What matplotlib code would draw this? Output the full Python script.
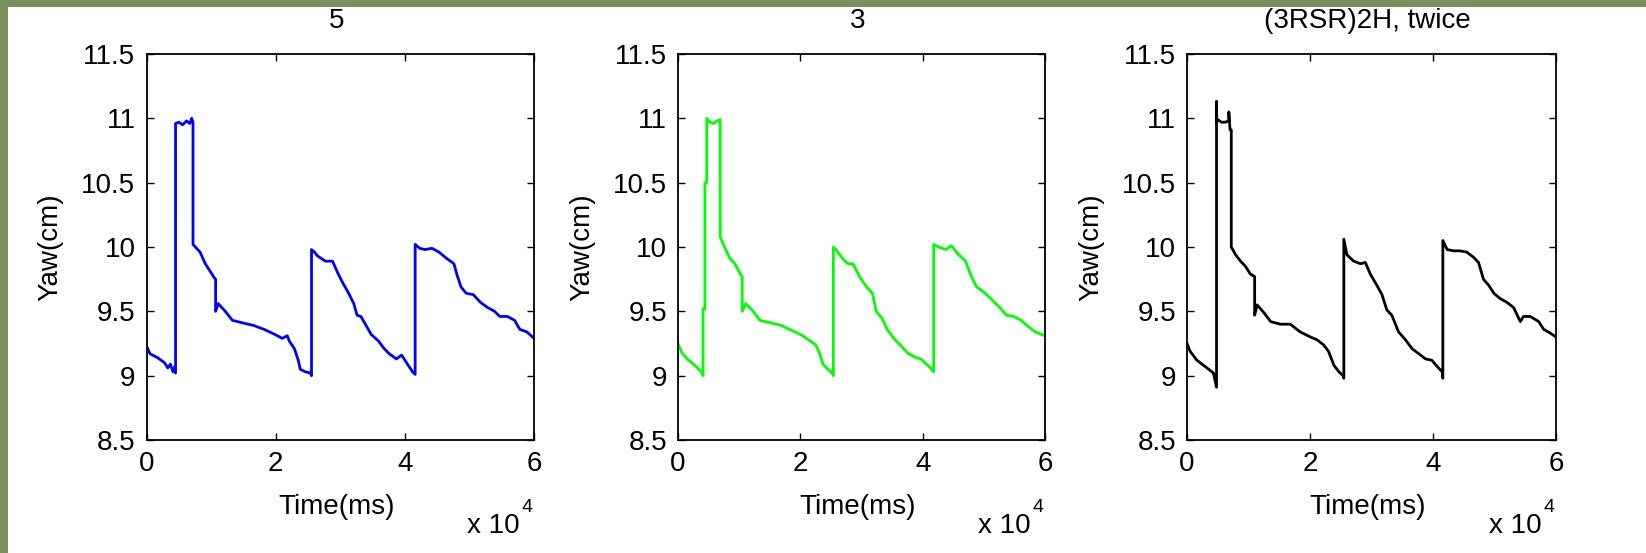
import numpy as np
import matplotlib.pyplot as plt
from matplotlib.patches import Rectangle

plt.rcParams['font.family'] = ['Liberation Sans', 'DejaVu Sans']

# time in units of 10^4 ms, yaw in cm
t_5 = [0, 0.055, 0.17, 0.28, 0.33, 0.37, 0.41, 0.44, 0.45,
       0.45, 0.50, 0.56, 0.62, 0.67, 0.70, 0.72,
       0.72, 0.83, 0.91, 1.00, 1.05, 1.07,
       1.07, 1.11, 1.22, 1.33, 1.49, 1.66, 1.82, 1.99, 2.10, 2.18, 2.21, 2.29,
       2.35, 2.38, 2.46, 2.54, 2.555,
       2.555, 2.60, 2.65, 2.77, 2.88, 2.96, 3.04, 3.12, 3.21, 3.26, 3.32, 3.40,
       3.48, 3.59, 3.68, 3.76, 3.87, 3.95, 4.04, 4.12, 4.16,
       4.16, 4.23, 4.31, 4.42, 4.53, 4.65, 4.76, 4.81, 4.87, 4.95, 5.06, 5.17,
       5.28, 5.39, 5.47, 5.59, 5.70, 5.78, 5.89, 6.0]
yaw_5 = [9.23, 9.17, 9.14, 9.10, 9.06, 9.09, 9.03, 9.07, 9.02,
         10.96, 10.97, 10.95, 10.98, 10.96, 11.00, 10.97,
         10.02, 9.96, 9.87, 9.80, 9.76, 9.75,
         9.50, 9.56, 9.50, 9.43, 9.41, 9.39, 9.36, 9.32, 9.29, 9.31, 9.27, 9.21,
         9.12, 9.05, 9.03, 9.02, 9.00,
         9.98, 9.96, 9.93, 9.89, 9.89, 9.80, 9.72, 9.65, 9.56, 9.47, 9.46, 9.39,
         9.32, 9.27, 9.21, 9.17, 9.13, 9.16, 9.09, 9.03, 9.01,
         10.02, 9.99, 9.98, 9.99, 9.96, 9.91, 9.87, 9.78, 9.69, 9.64, 9.63, 9.57,
         9.53, 9.50, 9.46, 9.46, 9.43, 9.36, 9.34, 9.29]

t_3 = [0, 0.06, 0.15, 0.23, 0.32, 0.40, 0.41,
       0.41, 0.44, 0.44, 0.47, 0.47, 0.52, 0.58, 0.64, 0.69,
       0.69, 0.76, 0.85, 0.93, 1.02, 1.05,
       1.05, 1.11, 1.23, 1.34, 1.52, 1.69, 1.87, 2.04, 2.16, 2.25, 2.31, 2.37,
       2.45, 2.52, 2.54,
       2.54, 2.60, 2.69, 2.78, 2.86, 2.98, 3.10, 3.18, 3.24, 3.33, 3.42, 3.53,
       3.65, 3.77, 3.89, 3.97, 4.06, 4.15, 4.18,
       4.18, 4.26, 4.38, 4.47, 4.59, 4.70, 4.79, 4.88, 5.00, 5.11, 5.26, 5.37,
       5.49, 5.61, 5.73, 5.84, 6.0]
yaw_3 = [9.25, 9.18, 9.13, 9.10, 9.06, 9.02, 9.00,
         9.52, 9.52, 10.50, 10.50, 11.00, 10.97, 10.96, 10.98, 10.99,
         10.08, 10.00, 9.91, 9.87, 9.79, 9.77,
         9.50, 9.56, 9.50, 9.43, 9.41, 9.39, 9.35, 9.31, 9.27, 9.24, 9.18, 9.09,
         9.05, 9.02, 9.00,
         10.00, 9.97, 9.91, 9.87, 9.87, 9.76, 9.68, 9.64, 9.50, 9.45, 9.36, 9.29,
         9.23, 9.17, 9.14, 9.13, 9.09, 9.05, 9.03,
         10.02, 10.00, 9.98, 10.01, 9.94, 9.89, 9.78, 9.69, 9.65, 9.60, 9.53, 9.47,
         9.46, 9.43, 9.38, 9.34, 9.31]

t_twice = [0, 0.05, 0.16, 0.27, 0.38, 0.43, 0.48,
           0.48, 0.48, 0.50, 0.56, 0.62, 0.68, 0.68, 0.70, 0.72,
           0.72, 0.79, 0.87, 0.95, 1.03, 1.10,
           1.10, 1.14, 1.25, 1.36, 1.52, 1.68, 1.84, 2.01, 2.11, 2.22, 2.30, 2.39,
           2.47, 2.54, 2.55,
           2.55, 2.60, 2.71, 2.82, 2.90, 2.98, 3.09, 3.17, 3.25, 3.33, 3.44, 3.55,
           3.66, 3.77, 3.88, 3.98, 4.07, 4.15, 4.16,
           4.16, 4.23, 4.34, 4.44, 4.55, 4.66, 4.74, 4.82, 4.91, 4.99, 5.09, 5.20,
           5.31, 5.42, 5.47, 5.58, 5.72, 5.80, 5.91, 6.0]
yaw_twice = [9.25, 9.19, 9.12, 9.08, 9.04, 9.02, 8.91,
             11.13, 10.97, 10.99, 10.97, 10.97, 10.98, 11.05, 10.91, 10.91,
             10.00, 9.94, 9.89, 9.85, 9.79, 9.77,
             9.47, 9.55, 9.49, 9.42, 9.40, 9.40, 9.34, 9.30, 9.28, 9.24, 9.19, 9.08,
             9.03, 9.00, 8.98,
             10.06, 9.94, 9.89, 9.87, 9.88, 9.79, 9.70, 9.63, 9.51, 9.47, 9.34, 9.28,
             9.21, 9.17, 9.13, 9.12, 9.07, 9.03, 8.98,
             10.05, 9.98, 9.97, 9.97, 9.96, 9.92, 9.88, 9.75, 9.70, 9.64, 9.60, 9.57,
             9.53, 9.42, 9.46, 9.46, 9.42, 9.36, 9.33, 9.30]

titles = ['5', '3', '(3RSR)2H, twice']
series = [(t_5, yaw_5), (t_3, yaw_3), (t_twice, yaw_twice)]
colors = ['#0000ff', '#00ff00', '#000000']
y_ticks = [8.5, 9, 9.5, 10, 10.5, 11, 11.5]
y_ticklabels = ['8.5', '9', '9.5', '10', '10.5', '11', '11.5']
x_ticks = [0, 2, 4, 6]

W, H = 1646, 553
fig = plt.figure(figsize=(W / 100, H / 100), dpi=100, facecolor='#7b8f5f')
# white slide area, green strip left and top
fig.patches.append(Rectangle((8 / W, 0), 1, (H - 7) / H, transform=fig.transFigure,
                             facecolor='white', edgecolor='none', zorder=-10))

# axes boxes in pixels: left, right
boxes = [(146.5, 534), (678, 1045), (1187, 1556)]
top, bottom = 54, 440

for (x0, x1), title, (t, y), c in zip(boxes, titles, series, colors):
    ax = fig.add_axes([x0 / W, 1 - bottom / H, (x1 - x0) / W, (bottom - top) / H])
    ax.set_zorder(1)
    ax.plot(t, y, color=c, lw=2.0)
    ax.set_xlim(0, 6)
    ax.set_ylim(8.5, 11.5)
    ax.set_xticks(x_ticks)
    ax.set_xticklabels([str(v) for v in x_ticks])
    ax.set_yticks(y_ticks)
    ax.set_yticklabels(y_ticklabels)
    ax.tick_params(direction='in', length=5, width=1, labelsize=20,
                   top=True, right=True, pad=8)
    for s in ax.spines.values():
        s.set_linewidth(1.3)
    ax.text(0.49, 1.085, title, transform=ax.transAxes, ha='center', va='center',
            fontsize=20)
    ax.set_xlabel('Time(ms)', fontsize=20)
    ax.xaxis.set_label_coords(0.49, -0.14)
    ax.set_ylabel('Yaw(cm)', fontsize=20)
    ax.yaxis.set_label_coords(-83 / (x1 - x0), 0.5)
    ax.annotate('x 10', xy=(1, 0), xycoords='axes fraction', xytext=(-14, -86),
                textcoords='offset pixels', ha='right', va='center', fontsize=20)
    ax.annotate('4', xy=(1, 0), xycoords='axes fraction', xytext=(-7, -67),
                textcoords='offset pixels', ha='center', va='center', fontsize=14)

fig.savefig('out.png', dpi=100, facecolor=fig.get_facecolor())
